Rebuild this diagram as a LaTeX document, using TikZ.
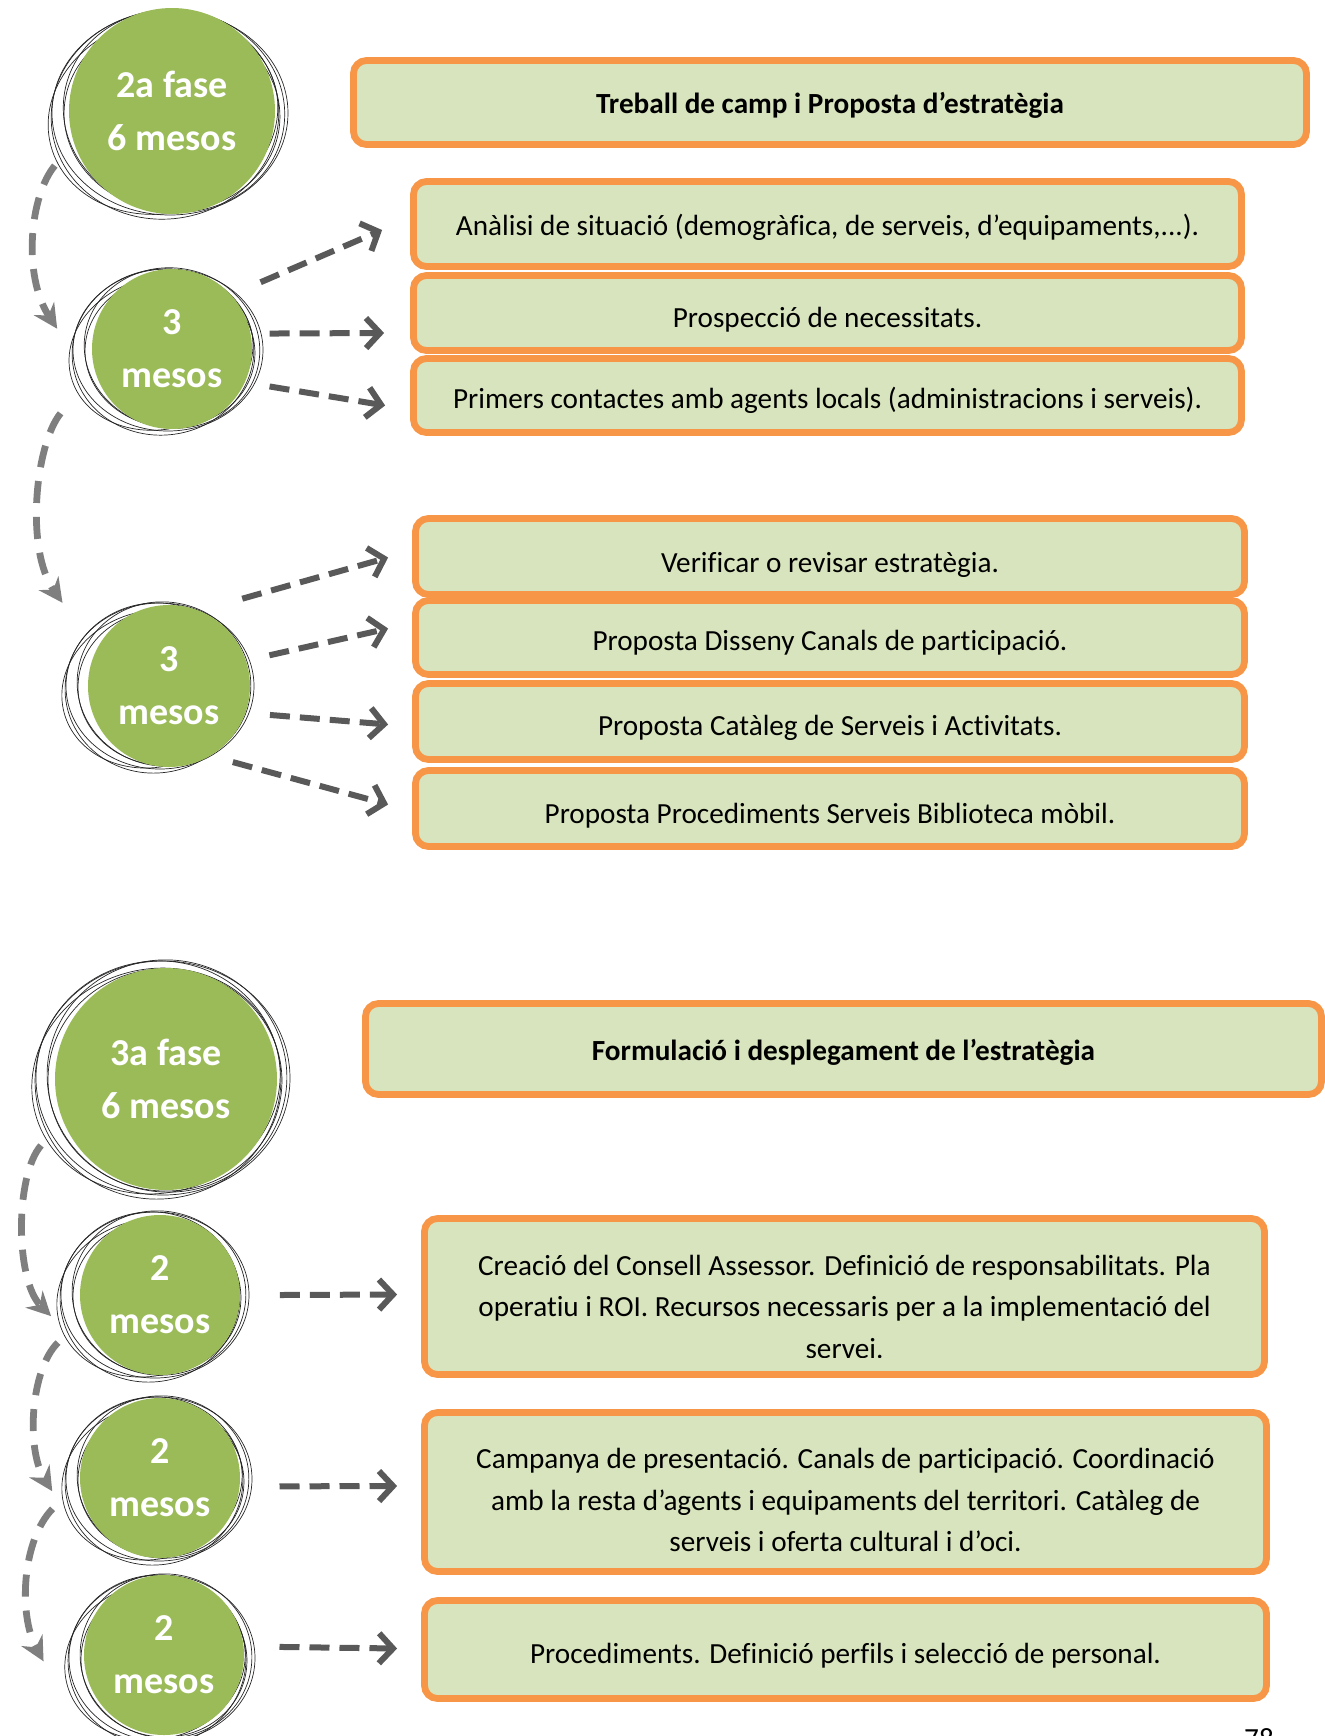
\documentclass[tikz,border=0pt]{standalone}
\usepackage{fontspec}
\setmainfont{Carlito}[Ligatures=NoCommon]
\usetikzlibrary{arrows.meta,calc,fit}
\definecolor{leaf}{HTML}{9BBB59}
\definecolor{paleleaf}{HTML}{D7E4BD}
\definecolor{tangerine}{HTML}{F79646}
\definecolor{slate}{HTML}{595959}
\definecolor{ash}{HTML}{7F7F7F}

% hand-drawn looking outline: a few slightly shifted, rotated ellipses
\newcommand{\roughring}[4]{%
  \foreach \dx/\dy/\drx/\dry/\rot in {0/0/0/0/0, -5/2/-4/2/8, 4/-2/-7/-1/-10, -7/3/-2/-5/15, 2/2/-10/-6/-4}{
    \draw[ring, rotate around={\rot:(#1+\dx,#2+\dy)}]
      (#1+\dx,#2+\dy) ellipse [x radius=#3+\drx, y radius=#4+\dry];
  }}

\begin{document}
\begin{tikzpicture}[x=0.5pt,y=-0.5pt,
  stage/.style={circle, fill=leaf, inner sep=0pt, text=white,
    font=\fontsize{19}{26.5}\selectfont\bfseries, align=center},
  ring/.style={draw=black!85, line width=0.35pt},
  taskbox/.style={draw=tangerine, fill=paleleaf, line width=3.4pt,
    rounded corners=6.5pt, inner sep=0pt},
  tasktext/.style={font=\fontsize{14.6}{20.75}\selectfont, align=center, inner sep=0pt},
  headtext/.style={tasktext, font=\fontsize{14.6}{20.75}\selectfont\bfseries},
  flow/.style={draw=slate, line width=3pt, dash pattern=on 10pt off 5pt,
    -{Straight Barb[length=7pt,width=15pt]}},
  chain/.style={draw=ash, line width=3.4pt, dash pattern=on 11pt off 7pt,
    -{Stealth[length=12pt,width=12pt,inset=4pt]}},
]
\useasboundingbox (0,0) rectangle (1325,1736);

% ---------- phase 2 ----------
\roughring{170}{113}{118}{102}
\node[stage, minimum size=103pt] (c1) at (172,111) {2a fase\\6 mesos};
\roughring{168}{350}{95}{81}
\node[stage, minimum size=80pt] (c2) at (172,349) {3\\mesos};
\roughring{160}{686}{94}{83}
\node[stage, minimum size=81pt] (c3) at (169,686) {3\\mesos};

\node[taskbox, fit={(353.5,60.5)(1306.5,144.5)}] (h1) {};
\node[headtext] (h1t) at ($(h1.center)+(0,3)$) {Treball de camp i Proposta d’estratègia};

\node[taskbox, fit={(413.5,181.5)(1241.5,266.5)}] (b1) {};
\node[tasktext] (b1t) at ($(b1.center)+(0,3)$) {Anàlisi de situació (demogràfica, de serveis, d’equipaments,...).};
\node[taskbox, fit={(413.5,275.5)(1241.5,350.5)}] (b2) {};
\node[tasktext] (b2t) at ($(b2.center)+(0,7)$) {Prospecció de necessitats.};
\node[taskbox, fit={(413.5,358.5)(1241.5,432.5)}] (b3) {};
\node[tasktext] (b3t) at ($(b3.center)+(0,5)$) {Primers contactes amb agents locals (administracions i serveis).};

\node[taskbox, fit={(415.5,518.5)(1244.5,594.5)}] (b4) {};
\node[tasktext] (b4t) at ($(b4.center)+(0,8)$) {Verificar o revisar estratègia.};
\node[taskbox, fit={(415.5,600.5)(1244.5,674.5)}] (b5) {};
\node[tasktext] (b5t) at ($(b5.center)+(0,5)$) {Proposta Disseny Canals de participació.};
\node[taskbox, fit={(415.5,683.5)(1244.5,759.5)}] (b6) {};
\node[tasktext] (b6t) at ($(b6.center)+(0,6)$) {Proposta Catàleg de Serveis i Activitats.};
\node[taskbox, fit={(415.5,770.5)(1244.5,846.5)}] (b7) {};
\node[tasktext] (b7t) at ($(b7.center)+(0,7)$) {Proposta Procediments Serveis Biblioteca mòbil.};

% task arrows, phase 2
\draw[flow] ($(c2)!1.38!(c2.37)$) -- ($(b1.west)+(-28,6)$);
\draw[flow] ($(c2)!1.23!(c2.9)$) -- ($(b2.west)+(-26,20)$);
\draw[flow] ($(c2)!1.30!(c2.-21)$) -- ($(b3.west)+(-25,10)$);
\draw[flow] ($(c3)!1.40!(c3.50)$) -- ($(b4.west)+(-24,1)$);
\draw[flow] ($(c3)!1.29!(c3.17)$) -- ($(b5.west)+(-24,-9)$);
\draw[flow] ($(c3)!1.29!(c3.-16)$) -- ($(b6.west)+(-24,3)$);
\draw[flow] ($(c3)!1.22!(c3.-50)$) -- ($(b7.west)+(-24,-4)$);

% sequence arrows, phase 2
\draw[chain] ($(c1)!1.25!(c1.205)$) .. controls (30,195) and (22,275) .. ($(c2)!1.45!(c2.170)$);
\draw[chain] ($(c2)!1.60!(c2.210)$) .. controls (35,445) and (25,550) .. ($(c3)!1.66!(c3.142)$);

% ---------- phase 3 ----------
\roughring{163}{1078}{127}{117}
\node[stage, minimum size=111pt] (c4) at (166,1079) {3a fase\\6 mesos};
\roughring{155}{1295}{94}{83}
\node[stage, minimum size=80pt] (c5) at (160,1295) {2\\mesos};
\roughring{159}{1479}{93}{82}
\node[stage, minimum size=80pt] (c6) at (160,1478) {2\\mesos};
\roughring{162}{1658}{93}{83}
\node[stage, minimum size=80pt] (c7) at (164,1655) {2\\mesos};

\node[taskbox, fit={(365.5,1003.5)(1321.5,1094.5)}] (h2) {};
\node[headtext] (h2t) at ($(h2.center)+(0,3)$) {Formulació i desplegament de l’estratègia};

\node[taskbox, fit={(424.5,1218.5)(1264.5,1374.5)}] (b8) {};
\begin{scope}
  \clip (430,1220) rectangle (1260,1357);
  \node[tasktext] (b8t) at ($(b8.center)+(0,10)$) {Creació del Consell Assessor. Definició de responsabilitats. Pla\\operatiu i ROI. Recursos necessaris per a la implementació del\\servei.};
\end{scope}
\node[taskbox, fit={(424.5,1412.5)(1266.5,1571.5)}] (b9) {};
\node[tasktext] (b9t) at ($(b9.center)+(0,8)$) {Campanya de presentació. Canals de participació. Coordinació\\amb la resta d’agents i equipaments del territori. Catàleg de\\serveis i oferta cultural i d’oci.};
\node[taskbox, fit={(424.5,1600.5)(1266.5,1698.5)}] (b10) {};
\node[tasktext] (b10t) at ($(b10.center)+(0,6)$) {Procediments. Definició perfils i selecció de personal.};

% task arrows, phase 3
\draw[flow] ($(c5)!1.49!(c5.0)$) -- ($(b8.west)+(-24,-2)$);
\draw[flow] ($(c6)!1.49!(c6.-4)$) -- ($(b9.west)+(-24,-6)$);
\draw[flow] ($(c7)!1.44!(c7.4)$) -- ($(b10.west)+(-24,-1)$);

% sequence arrows, phase 3
\draw[chain] ($(c4)!1.27!(c4.208)$) .. controls (15,1175) and (15,1280) .. ($(c5)!1.38!(c5.191)$);
\draw[chain] ($(c5)!1.40!(c5.205)$) .. controls (30,1370) and (26,1450) .. ($(c6)!1.35!(c6.187)$);
\draw[chain] ($(c6)!1.39!(c6.196)$) .. controls (22,1540) and (18,1615) .. ($(c7)!1.50!(c7.183)$);

% page number, cut by the lower edge
\node[font=\fontsize{14.6}{16}\selectfont, anchor=base, inner sep=0pt] (pg) at (1259,1748) {78};
\end{tikzpicture}
\end{document}
